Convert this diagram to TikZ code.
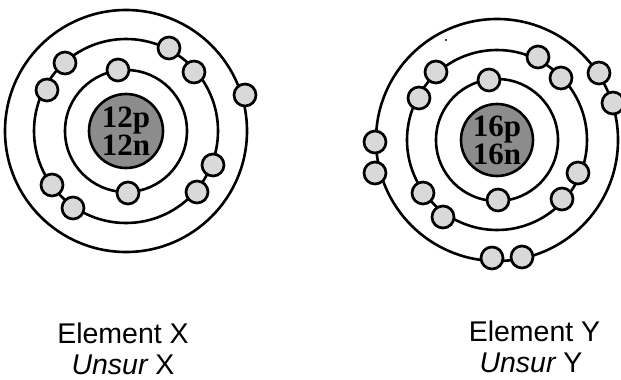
\documentclass[tikz,border=0pt]{standalone}
\usepackage{fontspec}
\setmainfont{Liberation Sans}
\newfontfamily\nucfont{Liberation Serif}
\begin{document}
\begin{tikzpicture}[x=1pt,y=-1pt,
  orbit/.style={draw=black,line width=2.6pt},
  nucleus/.style={circle,draw=black,line width=2.6pt,fill=black!45,inner sep=0pt,
    minimum size=72pt,font=\nucfont\bfseries\fontsize{31}{22}\selectfont,align=center},
  electron/.style={circle,draw=black,line width=2.7pt,fill=black!15,inner sep=0pt,minimum size=22pt},
  label/.style={anchor=base,inner sep=0pt,font=\fontsize{28.5}{28}\selectfont}]
\useasboundingbox (0,0) rectangle (621,380);
% ---- Element X ----
\node[nucleus,minimum size=74pt] (nx) at (126,131) {12p\\12n};
\draw[orbit] (nx.center) circle[radius=61];
\draw[orbit] (nx.center) circle[radius=92];
\draw[orbit] (nx.center) circle[radius=121];
\node[electron] (xa1) at (118,70) {};
\node[electron] (xa2) at (128,193) {};
\node[electron] (xb1) at (65,63) {};
\node[electron] (xb2) at (47,90) {};
\node[electron] (xb3) at (169,48) {};
\node[electron] (xb4) at (194,72) {};
\node[electron] (xb5) at (52,185) {};
\node[electron] (xb6) at (73,208) {};
\node[electron] (xb7) at (213,165) {};
\node[electron] (xb8) at (197,192) {};
\node[electron] (xc1) at (245,95) {};
% ---- Element Y ----
\node[nucleus] (ny) at (497,140) {16p\\16n};
\draw[orbit] (ny.center) circle[radius=61];
\draw[orbit] (ny.center) circle[radius=90];
\draw[orbit] (ny.center) circle[radius=121];
\node[electron] (ya1) at (489,80) {};
\node[electron] (ya2) at (498,200) {};
\node[electron] (yb1) at (436,72) {};
\node[electron] (yb2) at (419,98) {};
\node[electron] (yb3) at (538,57) {};
\node[electron] (yb4) at (561,78) {};
\node[electron] (yb5) at (423,193) {};
\node[electron] (yb6) at (443,217) {};
\node[electron] (yb7) at (578,173) {};
\node[electron] (yb8) at (562,199) {};
\node[electron] (yc1) at (599,73) {};
\node[electron] (yc2) at (613,103) {};
\node[electron] (yc3) at (375,142) {};
\node[electron] (yc4) at (375,173) {};
\node[electron] (yc5) at (492,258) {};
\node[electron] (yc6) at (522,257) {};
\fill (446,40) circle[radius=1.2];
% ---- labels ----
\node[label] (lx1) at (123,343) {Element X};
\node[label] (lx2) at (123,374) {\itshape Unsur\upshape\ X};
\node[label] (ly1) at (534.5,341) {Element Y};
\node[label] (ly2) at (531,372) {\itshape Unsur\upshape\ Y};
\end{tikzpicture}
\end{document}
